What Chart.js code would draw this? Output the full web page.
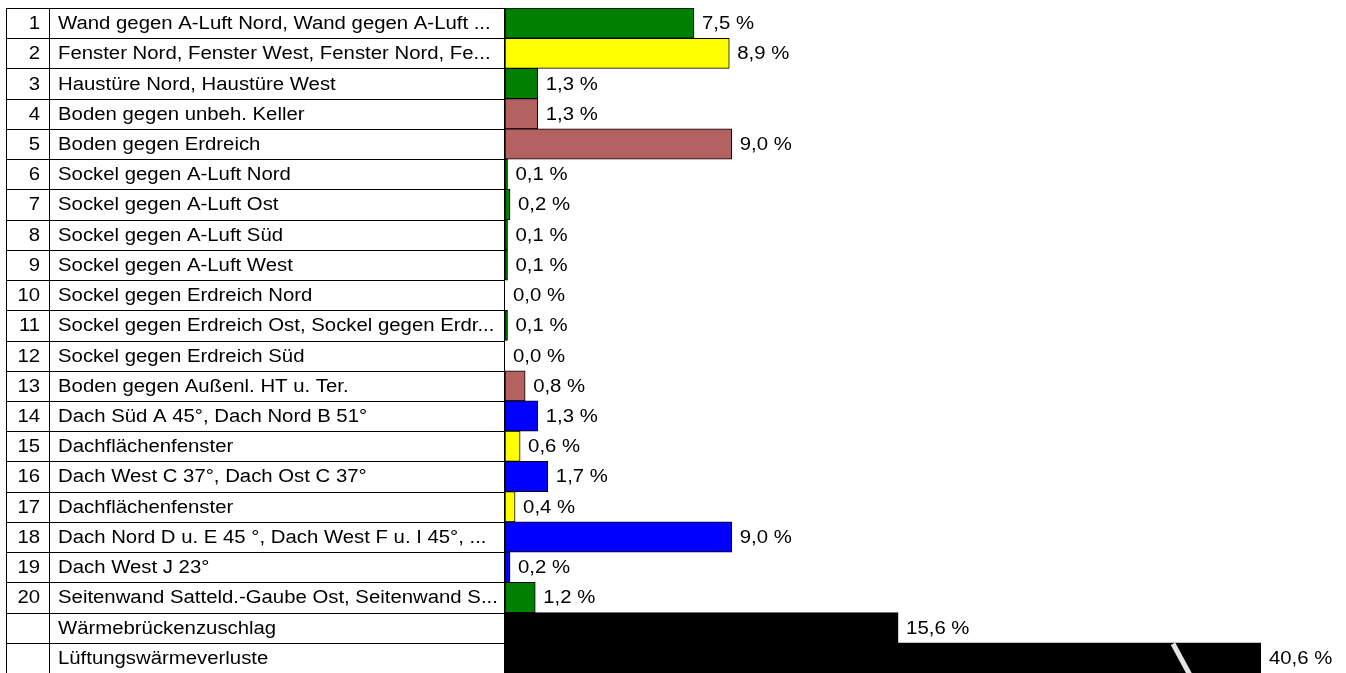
<!DOCTYPE html>
<html>
<head>
<meta charset="utf-8">
<script src="https://cdn.jsdelivr.net/npm/chart.js@4/dist/chart.umd.min.js"></script>
<style>
    html, body { margin: 0; padding: 0; background: #fff; overflow: hidden; }
    #wrap { position: absolute; left: 0; top: 0; width: 1346px; height: 690px; }
</style>
</head>
<body>
<div id="wrap"><canvas id="loss-chart"></canvas></div>
<script>
// Zeilennummern (leer bei den Zuschlägen unten)
var rowNumbers = ["1","2","3","4","5","6","7","8","9","10","11","12","13","14","15","16","17","18","19","20","",""];

var rowLabels = [
    "Wand gegen A-Luft Nord, Wand gegen A-Luft ...",
    "Fenster Nord, Fenster West, Fenster Nord, Fe...",
    "Haustüre Nord, Haustüre West",
    "Boden gegen unbeh. Keller",
    "Boden gegen Erdreich",
    "Sockel gegen A-Luft Nord",
    "Sockel gegen A-Luft Ost",
    "Sockel gegen A-Luft Süd",
    "Sockel gegen A-Luft West",
    "Sockel gegen Erdreich Nord",
    "Sockel gegen Erdreich Ost, Sockel gegen Erdr...",
    "Sockel gegen Erdreich Süd",
    "Boden gegen Außenl. HT u. Ter.",
    "Dach Süd A 45°, Dach Nord B 51°",
    "Dachflächenfenster",
    "Dach West C 37°, Dach Ost C 37°",
    "Dachflächenfenster",
    "Dach Nord D u. E 45 °, Dach West F u. I 45°, ...",
    "Dach West J 23°",
    "Seitenwand Satteld.-Gaube Ost, Seitenwand S...",
    "Wärmebrückenzuschlag",
    "Lüftungswärmeverluste"
];

// Anteil am Gesamtverlust in %
var lossShares = [7.5, 8.9, 1.3, 1.3, 9.0, 0.1, 0.2, 0.1, 0.1, 0.0, 0.1, 0.0, 0.8, 1.3, 0.6, 1.7, 0.4, 9.0, 0.2, 1.2, 15.6, 40.6];

// Bauteilart je Zeile -> Farbe
var rowTypes = ["wand","fenster","wand","boden","boden","wand","wand","wand","wand","wand","wand","wand","boden","dach","fenster","dach","fenster","dach","dach","wand","zuschlag","zuschlag"];

var typeColors = {
    wand: "#008000",
    fenster: "#FFFF00",
    boden: "#B36161",
    dach: "#0000FF",
    zuschlag: "#000000"
};

var axisMax = 30;
var fontSpec = "18px 'Liberation Sans', Arial, sans-serif";
var textStretch = 1.13;   // Schrift im Original etwas breitgezogen

function formatPercent(v){
    return v.toFixed(1).replace(".", ",") + " %";
}

function drawText(ctx, text, x, y, align){
    ctx.save();
    ctx.translate(x, y);
    ctx.scale(textStretch, 1);
    ctx.textAlign = align;
    ctx.fillText(text, 0, 0);
    ctx.restore();
}

// Tabelle links neben den Balken
var tablePlugin = {
    id: "lossTable",
    beforeDatasetsDraw: function(chart){
        var ctx = chart.ctx;
        var yScale = chart.scales.y;
        var area = chart.chartArea;
        var rowH = (area.bottom - area.top) / rowLabels.length;
        var left = 6, divider = 49, right = area.left - 0.5;

        ctx.save();
        ctx.strokeStyle = "#000";
        ctx.lineWidth = 1;
        ctx.font = fontSpec;
        ctx.fillStyle = "#000";
        ctx.textBaseline = "middle";

        rowLabels.forEach(function(label, i){
            var cy = yScale.getPixelForValue(i);
            var top = Math.round(cy - rowH / 2) + 0.5;
            var bottom = Math.round(cy + rowH / 2) + 0.5;
            ctx.beginPath();
            ctx.moveTo(left + 0.5, top);
            ctx.lineTo(right, top);
            ctx.moveTo(left + 0.5, bottom);
            ctx.lineTo(right, bottom);
            ctx.stroke();

            drawText(ctx, rowNumbers[i], 40, cy + 1, "right");
            drawText(ctx, label, 58, cy + 1, "left");
        });

        ctx.beginPath();
        [left + 0.5, divider + 0.5, right].forEach(function(x){
            ctx.moveTo(x, area.top);
            ctx.lineTo(x, area.bottom + 1);
        });
        ctx.stroke();
        ctx.restore();
    },
    afterDatasetsDraw: function(chart){
        var ctx = chart.ctx;
        var area = chart.chartArea;
        var bars = chart.getDatasetMeta(0).data;

        ctx.save();
        // Bruchkennzeichen im abgeschnittenen Balken
        lossShares.forEach(function(v, i){
            if (v <= axisMax) return;
            var bar = bars[i];
            var top = bar.y - bar.height / 2;
            var bottom = bar.y + bar.height / 2;
            ctx.strokeStyle = "#E4E4E4";
            ctx.lineWidth = 5;
            ctx.beginPath();
            ctx.moveTo(area.right - 88, top + 1);
            ctx.lineTo(area.right - 70, bottom + 4);
            ctx.stroke();
        });

        // Prozentwerte hinter den Balken
        ctx.font = fontSpec;
        ctx.fillStyle = "#000";
        ctx.textBaseline = "middle";
        lossShares.forEach(function(v, i){
            var bar = bars[i];
            var x = Math.min(bar.x, area.right);
            drawText(ctx, formatPercent(v), x + 8, bar.y + 1, "left");
        });
        ctx.restore();
    }
};

var ctx = document.getElementById("loss-chart");
var data = {
    labels: rowLabels,
    datasets: [{
        data: lossShares,
        backgroundColor: rowTypes.map(function(t){ return typeColors[t]; }),
        borderColor: "#000000",
        borderWidth: 1,
        borderSkipped: false,
        categoryPercentage: 1,
        barPercentage: 1
    }]
};

new Chart(ctx, {
    type: "bar",
    data: data,
    options: {
        indexAxis: "y",
        responsive: true,
        maintainAspectRatio: false,
        animation: false,
        layout: { padding: { left: 505, right: 85, top: 8, bottom: 17 } },
        plugins: {
            legend: { display: false },
            tooltip: { enabled: false }
        },
        scales: {
            x: { min: 0, max: axisMax, display: false },
            y: { display: false, offset: true }
        }
    },
    plugins: [tablePlugin]
});
</script>
</body>
</html>
